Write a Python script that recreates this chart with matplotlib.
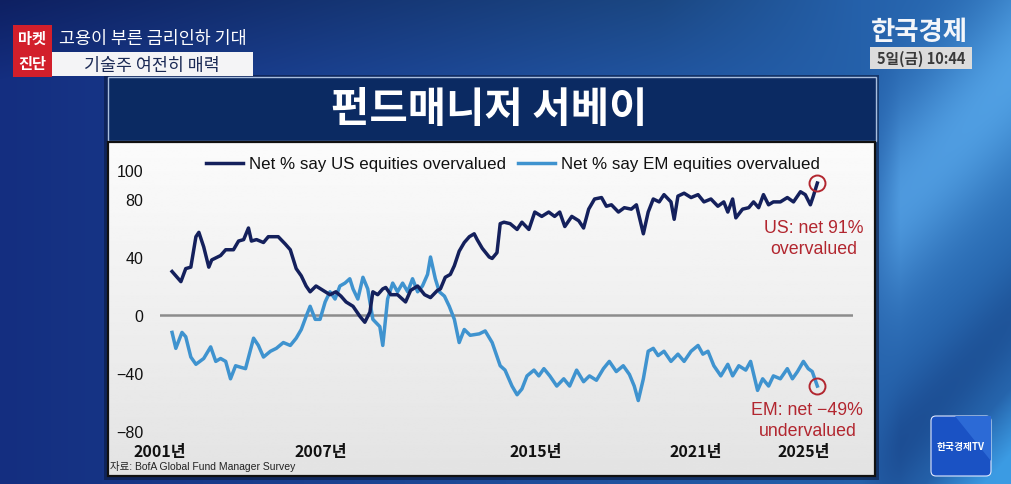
import numpy as np
import matplotlib
matplotlib.use('Agg')
import matplotlib.pyplot as plt
from matplotlib.patches import Rectangle, FancyBboxPatch

# ---------------- data ----------------
us_years = [2001.45, 2001.78, 2001.96, 2002.15, 2002.34, 2002.45, 2002.63, 2002.82, 2002.93, 2003.26,
            2003.45, 2003.74, 2003.93, 2004.12, 2004.30, 2004.41, 2004.60, 2004.86, 2005.04, 2005.41,
            2005.67, 2005.86, 2006.08, 2006.27, 2006.45, 2006.60, 2006.82, 2007.08, 2007.34, 2007.56,
            2007.75, 2007.94, 2008.20, 2008.46, 2008.64, 2008.83, 2008.94, 2009.12, 2009.31, 2009.42,
            2009.61, 2009.86, 2010.16, 2010.35, 2010.61, 2010.87, 2011.09, 2011.35, 2011.46, 2011.64,
            2011.83, 2011.98, 2012.16, 2012.35, 2012.54, 2012.72, 2012.83, 2013.02, 2013.28, 2013.39,
            2013.57, 2013.69, 2013.83, 2014.06, 2014.32, 2014.50, 2014.76, 2014.98, 2015.24, 2015.50,
            2015.72, 2015.91, 2016.10, 2016.36, 2016.62, 2016.80, 2016.99, 2017.21, 2017.47, 2017.65,
            2017.84, 2018.10, 2018.32, 2018.58, 2018.77, 2019.03, 2019.21, 2019.40, 2019.62, 2019.80,
            2020.06, 2020.18, 2020.32, 2020.55, 2020.81, 2021.07, 2021.29, 2021.55, 2021.81, 2022.03,
            2022.18, 2022.36, 2022.48, 2022.73, 2022.96, 2023.14, 2023.33, 2023.51, 2023.70, 2023.88,
            2024.14, 2024.40, 2024.63, 2024.89, 2025.07, 2025.26, 2025.37, 2025.52]
us_values = [30, 23, 32, 33, 54, 57, 47, 33, 38, 41,
             45, 45, 51, 52, 60, 51, 52, 50, 54, 54,
             49, 45, 32, 27, 20, 16, 20, 17, 14, 16,
             13, 9, 6, -1, -5, 2, 16, 14, 18, 19,
             14, 14, 9, 17, 20, 14, 12, 17, 18, 26,
             28, 34, 44, 50, 54, 56, 52, 46, 40, 39,
             43, 63, 64, 63, 59, 64, 59, 71, 68, 71,
             68, 71, 61, 68, 65, 60, 73, 80, 81, 75,
             76, 71, 74, 73, 76, 56, 71, 80, 78, 83,
             78, 66, 82, 84, 81, 83, 78, 80, 75, 78,
             71, 80, 67, 73, 74, 78, 74, 83, 76, 78,
             78, 81, 78, 85, 83, 76, 82, 91]

em_years = [2001.45, 2001.59, 2001.82, 2001.96, 2002.15, 2002.34, 2002.63, 2002.89, 2003.08, 2003.26,
            2003.45, 2003.63, 2003.82, 2004.00, 2004.19, 2004.49, 2004.67, 2004.86, 2005.12, 2005.34,
            2005.60, 2005.86, 2006.08, 2006.27, 2006.45, 2006.60, 2006.79, 2006.97, 2007.16, 2007.34,
            2007.53, 2007.71, 2007.90, 2008.08, 2008.20, 2008.38, 2008.57, 2008.75, 2008.94, 2009.20,
            2009.31, 2009.49, 2009.68, 2009.86, 2010.05, 2010.24, 2010.42, 2010.61, 2010.79, 2010.98,
            2011.09, 2011.27, 2011.42, 2011.61, 2011.79, 2011.98, 2012.16, 2012.35, 2012.57, 2012.91,
            2013.13, 2013.39, 2013.69, 2013.87, 2014.13, 2014.32, 2014.50, 2014.69, 2014.95, 2015.13,
            2015.32, 2015.54, 2015.80, 2016.06, 2016.28, 2016.54, 2016.80, 2017.02, 2017.28, 2017.54,
            2017.76, 2018.02, 2018.28, 2018.51, 2018.69, 2018.84, 2019.03, 2019.21, 2019.40, 2019.58,
            2019.80, 2020.06, 2020.32, 2020.55, 2020.81, 2021.07, 2021.25, 2021.44, 2021.66, 2021.92,
            2022.18, 2022.36, 2022.59, 2022.85, 2023.03, 2023.29, 2023.48, 2023.70, 2023.88, 2024.14,
            2024.40, 2024.59, 2024.78, 2025.00, 2025.18, 2025.33, 2025.52]
em_values = [-12, -23, -12, -15, -29, -34, -30, -22, -32, -30,
             -32, -44, -35, -36, -37, -16, -21, -29, -25, -23,
             -19, -21, -16, -10, -1, 6, -3, -3, 9, 16,
             11, 20, 22, 25, 18, 11, 26, 18, -3, -8,
             -21, 11, 22, 16, 22, 16, 25, 16, 20, 28,
             40, 25, 16, 13, 6, -3, -19, -10, -14, -13,
             -11, -19, -35, -38, -49, -55, -51, -42, -38, -42,
             -37, -42, -49, -44, -49, -38, -46, -42, -45, -37,
             -32, -39, -35, -41, -49, -59, -44, -25, -23, -28,
             -25, -32, -27, -32, -25, -21, -27, -25, -35, -42,
             -34, -42, -35, -38, -32, -52, -44, -49, -42, -44,
             -37, -44, -39, -32, -37, -39, -49]

series_labels = ['Net % say US equities overvalued', 'Net % say EM equities overvalued']
year_ticks = [2001, 2007, 2015, 2021, 2025]
year_labels = ['2001년', '2007년', '2015년', '2021년', '2025년']
value_ticks = [-80, -40, 0, 40, 80, 100]
title = '펀드매니저 서베이'
source = '자료: BofA Global Fund Manager Survey'
us_note = 'US: net 91%\novervalued'
em_note = 'EM: net \u221249%\nundervalued'

US_C = '#14205c'
EM_C = '#3f93cf'
RED = '#b2262f'

plt.rcParams['font.family'] = ['Liberation Sans', 'Noto Sans CJK KR', 'DejaVu Sans']
KR = ['Noto Sans CJK KR', 'DejaVu Sans']

W, H = 1012, 485
fig = plt.figure(figsize=(W / 100, H / 100), dpi=100)

# ---------------- background ----------------
bg = fig.add_axes([0, 0, 1, 1])
bg.set_xlim(0, W)
bg.set_ylim(H, 0)
bg.axis('off')

yy, xx = np.mgrid[0:H, 0:W].astype(float)
t = xx / W
img = np.stack([20 + 20 * t, 46 + 60 * t, 128 + 50 * t], axis=-1)
d = xx + 0.9 * yy
light = np.clip((xx - 860) / 40, 0, 1) * (np.exp(-((d - 1080) / 90) ** 2) * 0.9)
img = img + light[..., None] * np.array([45, 60, 55])
dark = np.clip((xx - 860) / 40, 0, 1) * np.exp(-((d - 1300) / 50) ** 2) * 0.6
img = img - dark[..., None] * np.array([15, 35, 40])
low = np.clip((xx - 860) / 40, 0, 1) * np.clip((d - 1360) / 60, 0, 1)
img = img + low[..., None] * np.array([20, 50, 50])
topd = np.clip((80 - yy) / 80, 0, 1) * np.clip((860 - xx) / 200, 0, 1)
img = img - topd[..., None] * np.array([6, 14, 30])
img = np.clip(img, 0, 255) / 255.0
bg.imshow(img, extent=(0, W, H, 0), aspect='auto', zorder=0)

# header, top-left
bg.add_patch(Rectangle((13, 26), 39, 52, fc='#d21f2b', ec='none', zorder=2))
bg.text(32.5, 39, '마켓', color='white', fontsize=11, fontweight='bold', family=KR,
        ha='center', va='center', zorder=3)
bg.text(32.5, 64, '진단', color='white', fontsize=11, fontweight='bold', family=KR,
        ha='center', va='center', zorder=3)
bg.text(59, 39, '고용이 부른 금리인하 기대', color='white', fontsize=12.5, family=KR,
        ha='left', va='center', zorder=3)
bg.add_patch(Rectangle((52, 53), 201, 24, fc='#f4f4f6', ec='none', zorder=2))
bg.text(152, 65.5, '기술주 여전히 매력', color='#1b2a55', fontsize=12.5, family=KR,
        ha='center', va='center', zorder=3)

# header, top-right
bg.text(919, 32, '한국경제', color='#f4f6fa', fontsize=19, fontweight='bold', family=KR,
        ha='center', va='center', zorder=3)
bg.add_patch(Rectangle((870, 48), 102, 22, fc='#dcdcdc', ec='none', zorder=2))
bg.text(921, 59, '5일(금) 10:44', color='#3a3a3a', fontsize=10.5, fontweight='bold', family=KR,
        ha='center', va='center', zorder=3)

# panel
bg.add_patch(Rectangle((104, 76), 775, 405, fc='#0a1a40', ec='none', zorder=1, alpha=0.6))
bg.add_patch(Rectangle((108, 78), 768, 64, fc='#0b2a62', ec='#a9bede', lw=1, zorder=2))
bg.text(489, 110, title, color='white', fontsize=30, fontweight='bold', family=KR,
        ha='center', va='center', zorder=3)
grad = np.linspace(0.985, 0.89, 200)[:, None] * np.ones((1, 2))
bg.imshow(grad, cmap='gray', vmin=0, vmax=1, extent=(108, 875, 477, 143), aspect='auto', zorder=2)
bg.add_patch(Rectangle((108, 143), 767, 334, fill=False, ec='#111111', lw=1.6, zorder=3))
bg.text(110, 467, source, color='#222222', fontsize=7.5, ha='left', va='center',
        zorder=3, family=['Liberation Sans', 'Noto Sans CJK KR'])

# logo bottom-right
bg.add_patch(FancyBboxPatch((931, 417), 60, 60, boxstyle='round,pad=0,rounding_size=5',
                            fc='#1a52c4', ec='#e0e8ff', lw=0.8, zorder=2))
bg.add_patch(plt.Polygon([[955, 417], [991, 417], [991, 462]], closed=True,
                         fc='#2c6ad6', ec='none', zorder=2))
bg.text(961, 447, '한국경제TV', color='white', fontsize=7, fontweight='bold', family=KR,
        ha='center', va='center', zorder=3)

# ---------------- chart ----------------
px_per_unit = 1.45
zero_px = 316
top_px, bot_px = 150, 445
left_px, right_px = 160, 853
ax = fig.add_axes([left_px / W, 1 - bot_px / H, (right_px - left_px) / W, (bot_px - top_px) / H])
ax.patch.set_alpha(0)
ax.set_zorder(5)
ax.set_xlim(2001.15, 2026.85)
ax.set_ylim((zero_px - bot_px) / px_per_unit, (zero_px - top_px) / px_per_unit)
for s in ax.spines.values():
    s.set_visible(False)

ax.axhline(0, color='#8c8c8c', lw=1.8, zorder=1)
ax.plot(us_years, us_values, color=US_C, lw=2.5, zorder=3, label=series_labels[0],
        solid_joinstyle='round')
ax.plot(em_years, em_values, color=EM_C, lw=2.5, zorder=2, label=series_labels[1],
        solid_joinstyle='round')

ax.set_yticks(value_ticks)
ax.set_yticklabels([str(v).replace('-', '\u2212') for v in value_ticks], fontsize=11.5, color='#111111')
ax.tick_params(axis='y', length=0, pad=12)
ax.set_xticks(year_ticks)
ax.set_xticklabels(year_labels, fontsize=11.5, color='#111111', family=KR, fontweight='bold')
ax.tick_params(axis='x', length=0, pad=-1)

# end markers and notes
ax.plot([us_years[-1]], [us_values[-1]], 'o', ms=11.5, mfc='none', mec=RED, mew=1.4, zorder=4)
ax.plot([em_years[-1]], [em_values[-1]], 'o', ms=11.5, mfc='none', mec=RED, mew=1.4, zorder=4)
ax.annotate(us_note, xy=(us_years[-1], us_values[-1]), xycoords='data',
            xytext=(-4, -55), textcoords='offset pixels', ha='center', va='center',
            color=RED, fontsize=12.8, linespacing=1.3)
ax.annotate(em_note, xy=(em_years[-1], em_values[-1]), xycoords='data',
            xytext=(-10, -34), textcoords='offset pixels', ha='center', va='center',
            color=RED, fontsize=12.8, linespacing=1.25)

leg = ax.legend(loc='center left', bbox_to_anchor=(206 / W, 1 - 165 / H),
                bbox_transform=fig.transFigure, ncol=2, frameon=False, fontsize=12.2,
                handlelength=2.2, handletextpad=0.35, columnspacing=0.7,
                borderpad=0, borderaxespad=0)
for txt in leg.get_texts():
    txt.set_color('#111111')

fig.savefig('out.png', dpi=100)
